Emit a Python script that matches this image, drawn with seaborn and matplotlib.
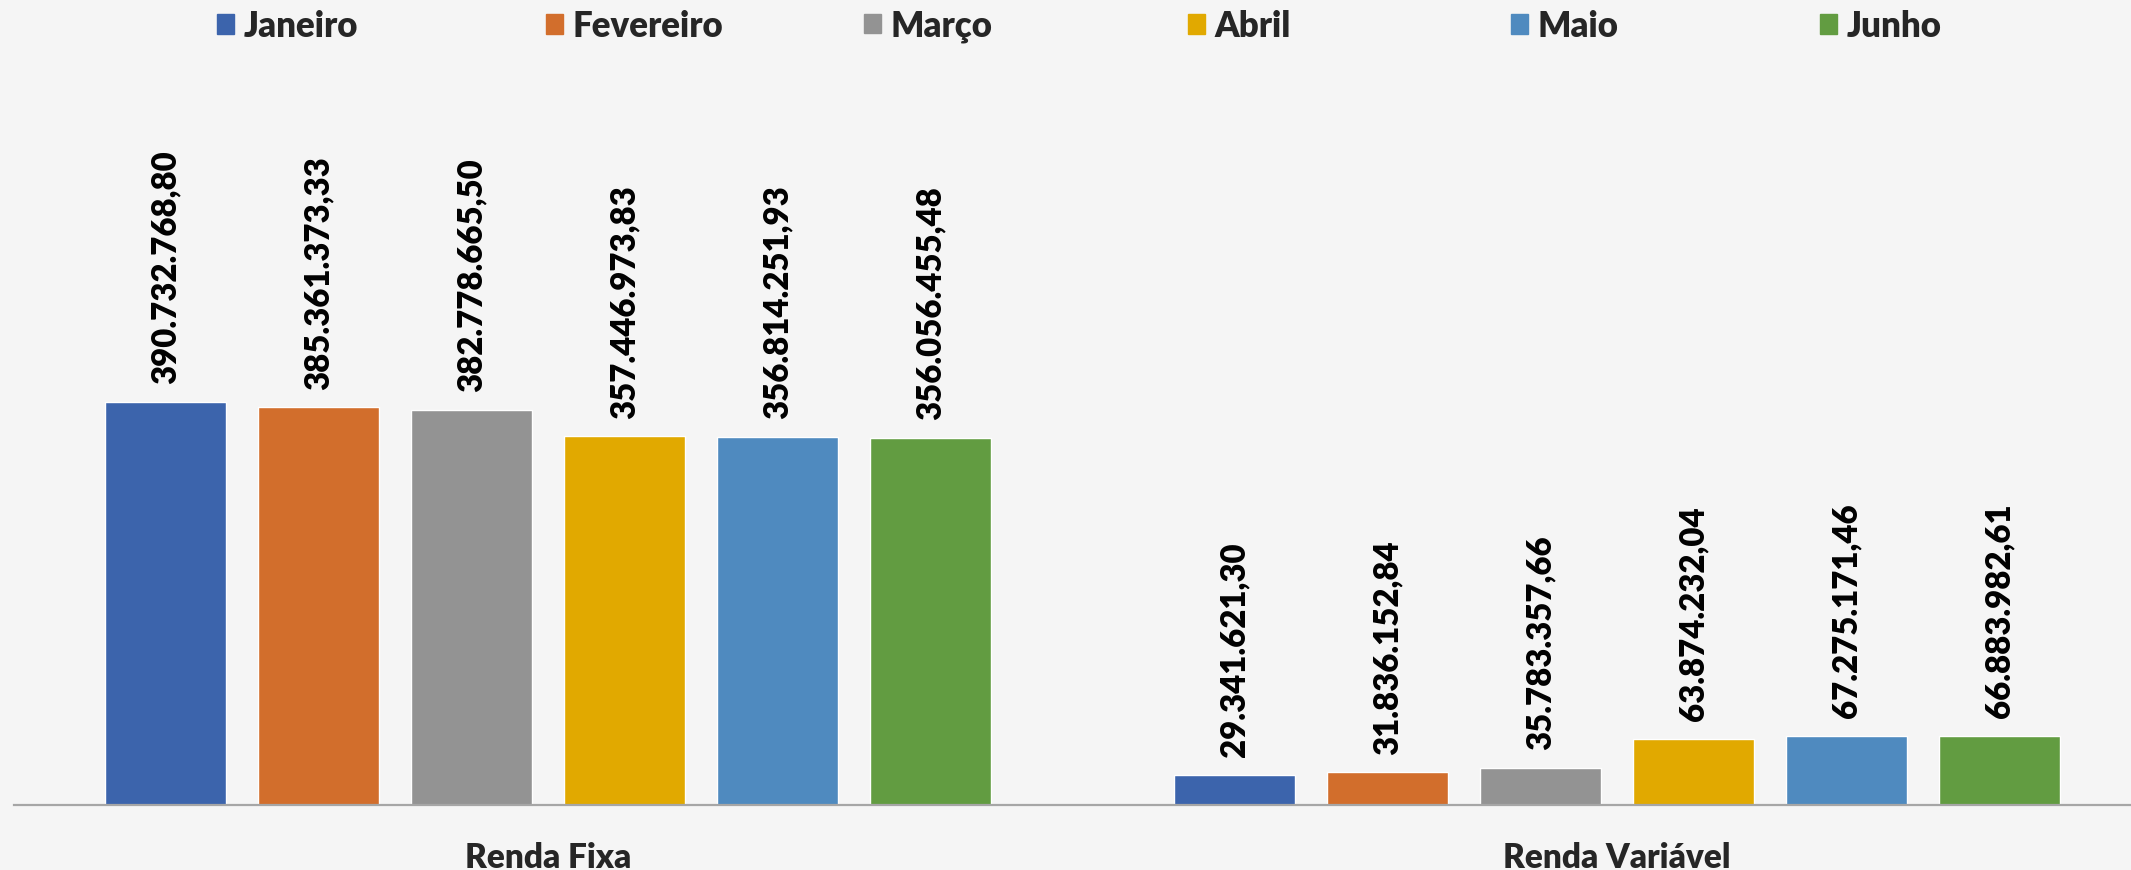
import pandas as pd
import matplotlib.pyplot as plt
import matplotlib.patches as mpatches
import seaborn as sns

categorias = ["Renda Fixa", "Renda Variável"]
meses = ["Janeiro", "Fevereiro", "Março", "Abril", "Maio", "Junho"]
renda_fixa = [390732768.80, 385361373.33, 382778665.50, 357446973.83, 356814251.93, 356056455.48]
renda_variavel = [29341621.30, 31836152.84, 35783357.66, 63874232.04, 67275171.46, 66883982.61]
cores = ["#3c64ac", "#d26e2c", "#939393", "#e1a900", "#4f8abf", "#629c41"]

df = pd.DataFrame({
    "Categoria": [categorias[0]] * 6 + [categorias[1]] * 6,
    "Mes": meses + meses,
    "Valor": renda_fixa + renda_variavel,
})

sns.set_style("white")
plt.rcParams["font.family"] = ["Lato", "DejaVu Sans"]
plt.rcParams["font.weight"] = "bold"

fundo = "#f5f5f5"
fig = plt.figure(figsize=(21.31, 8.705), dpi=100, facecolor=fundo)
ax = fig.add_axes([14 / 2131, 1 - 805 / 870, 1 - 14 / 2131, 805 / 870])
ax.set_facecolor(fundo)

sns.barplot(data=df, x="Categoria", y="Valor", hue="Mes", hue_order=meses,
            order=categorias, palette=cores, width=0.859, gap=0.21,
            saturation=1, legend=False, ax=ax)


def fmt_br(v):
    s = f"{v:,.2f}"
    return s.replace(",", "X").replace(".", ",").replace("X", ".")


for cont in ax.containers:
    ax.bar_label(cont, labels=[fmt_br(p.get_height()) for p in cont.patches],
                 rotation=90, padding=13, fontsize=23.8, fontweight="heavy",
                 color="black")

ax.set_xlim(-0.4993, 1.481)
ax.set_ylim(0, 780.5e6)
ax.set_xlabel("")
ax.set_ylabel("")
ax.set_yticks([])
ax.tick_params(axis="x", length=0, pad=26, labelsize=24)
for t in ax.get_xticklabels():
    t.set_fontweight("heavy")
for s in ["top", "left", "right"]:
    ax.spines[s].set_visible(False)
ax.spines["bottom"].set_color("#a6a6a6")
ax.spines["bottom"].set_linewidth(1.6)

# legenda com entradas igualmente espaçadas
xs_leg = [217, 546, 864, 1188, 1511, 1820]
for mes, cor, x in zip(meses, cores, xs_leg):
    fig.legend(handles=[mpatches.Patch(color=cor)], labels=[mes],
               loc="center left", bbox_to_anchor=(x / 2131, 1 - 26 / 870),
               frameon=False, borderpad=0, borderaxespad=0,
               handlelength=0.5, handleheight=0.5, handletextpad=0.27,
               prop={"size": 25, "weight": "heavy"})

fig.savefig("out.png", dpi=100, facecolor=fundo)
